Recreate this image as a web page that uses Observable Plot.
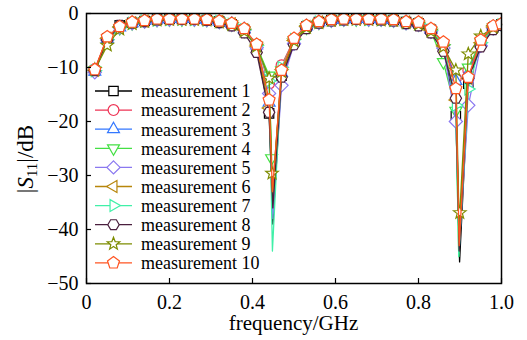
<!DOCTYPE html>
<html>
<head>
<meta charset="utf-8">
<script src="https://cdn.jsdelivr.net/npm/d3@7"></script>
<script src="https://cdn.jsdelivr.net/npm/@observablehq/plot@0.6"></script>
<style>
  html, body { margin: 0; padding: 0; background: white; }
  svg { display: block; }
  svg text, svg tspan { font-family: "Liberation Serif", "Times New Roman", "DejaVu Serif", serif !important; }
</style>
</head>
<body>
<div id="chart"></div>
<script>
// ---- data ----
const seriesNames = ["measurement 1","measurement 2","measurement 3","measurement 4","measurement 5",
                     "measurement 6","measurement 7","measurement 8","measurement 9","measurement 10"];
const xTicks = [0, 0.2, 0.4, 0.6, 0.8, 1.0];
const yTicks = [0, -10, -20, -30, -40, -50];
const freq = [0.02,0.05,0.08,0.11,0.14,0.17,0.20,0.23,0.26,0.29,0.32,0.35,0.38,0.41,0.44,0.47,0.50,
              0.53,0.56,0.59,0.62,0.65,0.68,0.71,0.74,0.77,0.80,0.83,0.86,0.89,0.92,0.95,0.98,1.00];
const s1  = [-10.6,-4.6,-2.2,-1.7,-1.4,-1.1,-1.0,-1.0,-1.0,-1.2,-1.5,-2.0,-3.0,-6.2,-18.5,-11.5,-5.2,-2.4,-1.6,-1.2,-1.0,-1.0,-1.0,-1.1,-1.2,-1.6,-1.8,-3.0,-6.0,-19.0,-13.0,-5.5,-2.6,-2.0];
const s2  = [-10.3,-4.5,-2.5,-1.7,-1.3,-1.1,-1.0,-0.9,-1.0,-1.1,-1.4,-1.9,-2.9,-5.8,-13.0,-9.6,-4.8,-2.3,-1.5,-1.1,-1.0,-0.9,-1.0,-1.0,-1.2,-1.5,-1.7,-2.9,-5.5,-12.0,-10.5,-5.0,-2.4,-1.9];
const s3  = [-10.8,-4.7,-2.6,-1.8,-1.4,-1.1,-1.0,-1.0,-1.0,-1.2,-1.5,-1.9,-2.9,-5.9,-16.5,-11.0,-4.9,-2.4,-1.6,-1.2,-1.1,-1.0,-1.0,-1.1,-1.2,-1.6,-1.8,-3.0,-5.8,-12.5,-11.0,-5.2,-2.5,-2.0];
const s4  = [-10.5,-5.2,-2.7,-1.8,-1.4,-1.2,-1.1,-1.1,-1.1,-1.2,-1.5,-2.0,-3.2,-6.0,-11.5,-10.5,-5.0,-2.6,-1.7,-1.3,-1.1,-1.1,-1.1,-1.1,-1.3,-1.7,-2.0,-3.3,-9.0,-18.0,-10.0,-5.3,-2.6,-2.1];
const s5  = [-10.9,-4.9,-2.6,-1.8,-1.5,-1.2,-1.1,-1.0,-1.1,-1.2,-1.6,-2.1,-3.1,-6.3,-14.8,-13.3,-5.6,-2.5,-1.7,-1.3,-1.1,-1.0,-1.1,-1.1,-1.3,-1.8,-2.1,-3.4,-6.4,-20.0,-17.0,-6.0,-2.8,-2.1];
const s6  = [-10.5,-4.6,-2.5,-1.7,-1.4,-1.1,-1.0,-1.0,-1.0,-1.1,-1.5,-1.9,-3.0,-6.0,-17.5,-11.2,-5.0,-2.4,-1.6,-1.2,-1.0,-1.0,-1.0,-1.1,-1.2,-1.6,-1.8,-3.1,-6.0,-16.0,-12.0,-5.4,-2.5,-2.0];
const s7  = [-10.6,-4.8,-2.6,-1.8,-1.4,-1.2,-1.1,-1.0,-1.1,-1.2,-1.5,-2.0,-3.0,-5.9,-12.5,-10.0,-4.8,-2.4,-1.6,-1.2,-1.1,-1.0,-1.1,-1.1,-1.3,-1.7,-1.9,-3.1,-5.8,-17.0,-14.0,-5.4,-2.6,-2.1];
const s8  = [-10.6,-4.9,-2.2,-1.8,-1.5,-1.2,-1.1,-1.1,-1.1,-1.3,-1.7,-2.3,-3.6,-7.2,-18.3,-11.8,-5.8,-2.8,-1.8,-1.4,-1.2,-1.1,-1.1,-1.2,-1.4,-1.9,-2.3,-3.6,-7.0,-15.7,-12.0,-6.2,-3.0,-2.2];
const s9  = [-10.4,-5.9,-2.9,-1.9,-1.5,-1.2,-1.1,-1.1,-1.1,-1.2,-1.6,-2.1,-3.3,-6.1,-12.0,-10.8,-5.1,-2.6,-1.7,-1.3,-1.1,-1.1,-1.1,-1.2,-1.3,-1.7,-2.0,-3.3,-6.2,-10.5,-7.5,-4.2,-2.6,-2.0];
const s10 = [-10.4,-4.3,-2.4,-1.6,-1.3,-1.0,-1.0,-1.0,-1.0,-1.1,-1.4,-1.8,-2.8,-5.7,-16.0,-10.5,-4.6,-2.2,-1.5,-1.1,-1.0,-1.0,-1.0,-1.0,-1.1,-1.5,-1.6,-2.8,-5.3,-13.9,-11.8,-4.9,-2.3,-1.9];
// resonance minima (line only)
const dip1F  = [0.449,0.448,0.449,0.447,0.449,0.448,0.448,0.449,0.448,0.448];
const dip1Db = [-39,-35,-37,-35,-38,-34,-44,-36,-33,-33];
const dip2F  = [0.899,0.898,0.898,0.897,0.899,0.898,0.897,0.898,0.8985,0.898];
const dip2Db = [-46,-43,-44,-45,-42,-41,-45,-44,-41,-43];
// extra measured (marked) points near the resonances
const extraSeries = [3, 8, 8];
const extraF  = [0.446, 0.447, 0.8995];
const extraDb = [-26.8, -29.6, -36.9];

const colors = ["#000000","#ee3355","#3377ff","#44e044","#8a78f0","#b8860b","#40f0a8","#4a1f3e","#7d8c00","#ff5522"];

// ---- custom marker shapes ----
function poly(n, rot, k) {
  return { draw(ctx, size) {
    const r = Math.sqrt(size / Math.PI) * k;
    for (let i = 0; i < n; i++) {
      const a = rot + i * 2 * Math.PI / n;
      const x = r * Math.cos(a), y = r * Math.sin(a);
      if (i === 0) ctx.moveTo(x, y); else ctx.lineTo(x, y);
    }
    ctx.closePath();
  }};
}
const symSquare = { draw(ctx, size) { const s = Math.sqrt(size / Math.PI) * 0.78; ctx.rect(-s, -s, 2*s, 2*s); } };
const symCircle = { draw(ctx, size) { const r = Math.sqrt(size / Math.PI) * 0.9; ctx.moveTo(r, 0); ctx.arc(0, 0, r, 0, 2*Math.PI); } };
const symTriUp = poly(3, -Math.PI/2, 1.15);
const symTriDown = poly(3, Math.PI/2, 1.15);
const symDiamond = poly(4, -Math.PI/2, 1.1);
const symTriLeft = poly(3, Math.PI, 1.15);
const symTriRight = poly(3, 0, 1.15);
const symHex = poly(6, 0, 0.95);
const symPent = poly(5, -Math.PI/2, 1.05);
const symStar = { draw(ctx, size) {
  const R = Math.sqrt(size / Math.PI) * 1.1, r = R * 0.42;
  for (let i = 0; i < 10; i++) {
    const a = -Math.PI/2 + i * Math.PI / 5, rr = i % 2 ? r : R;
    const x = rr * Math.cos(a), y = rr * Math.sin(a);
    if (i === 0) ctx.moveTo(x, y); else ctx.lineTo(x, y);
  }
  ctx.closePath();
}};
const symbols = [symSquare, symCircle, symTriUp, symTriDown, symDiamond, symTriLeft, symTriRight, symHex, symStar, symPent];

const allVals = [s1,s2,s3,s4,s5,s6,s7,s8,s9,s10];
const R = 6;

const seriesRows = allVals.map((vals, i) => {
  const rows = freq.map((f, j) => ({f, db: vals[j], m: true}));
  rows.push({f: dip1F[i], db: dip1Db[i], m: false});
  rows.push({f: dip2F[i], db: dip2Db[i], m: false});
  extraSeries.forEach((s, k) => { if (s === i) rows.push({f: extraF[k], db: extraDb[k], m: true}); });
  rows.sort((a, b) => a.f - b.f);
  return rows;
});

const marks = [];
seriesRows.forEach((rows, i) => {
  marks.push(Plot.line(rows, {x: "f", y: "db", stroke: colors[i], strokeWidth: 1.3}));
  marks.push(Plot.dot(rows.filter(d => d.m), {x: "f", y: "db", symbol: symbols[i], r: R,
    stroke: colors[i], fill: "white", strokeWidth: 1.2, clip: true}));
});

const font = "Liberation Serif, Times New Roman, DejaVu Serif, serif";
const chart = Plot.plot({
  width: 527, height: 340,
  marginLeft: 86, marginRight: 26, marginTop: 13, marginBottom: 57,
  style: {fontFamily: font, fontSize: "20px", color: "black", background: "white"},
  x: {domain: [0, 1], label: null},
  y: {domain: [-50, 0], label: null},
  marks: [
    ...marks,
    Plot.frame({stroke: "black", strokeWidth: 1.5}),
    Plot.axisX(xTicks, {tickSize: -5, tickPadding: 16, tickFormat: d => d.toFixed(1).replace(/^0\.0$/, "0"), label: null, strokeWidth: 1.2}),
    Plot.axisY(yTicks, {tickSize: -5, tickPadding: 13, tickFormat: d => d === 0 ? "0" : "\u2212" + Math.abs(d), label: null, strokeWidth: 1.2})
  ]
});
document.getElementById("chart").appendChild(chart);

// ---- axis titles and legend ----
const svg = d3.select(chart);
svg.append("text")
  .attr("x", 293.5).attr("y", 330)
  .attr("text-anchor", "middle")
  .attr("font-family", font).attr("font-size", 21).attr("fill", "black")
  .text("frequency/GHz");

const yl = svg.append("text")
  .attr("transform", "translate(33,159) rotate(-90)")
  .attr("text-anchor", "middle")
  .attr("font-family", font).attr("font-size", 23).attr("fill", "black");
yl.append("tspan").text("|");
yl.append("tspan").attr("font-style", "italic").text("S");
yl.append("tspan").attr("font-size", 15).attr("dy", 4).text("11");
yl.append("tspan").attr("dy", -4).text("|/dB");

const lg = svg.append("g").attr("text-anchor", "start");
seriesNames.forEach((name, i) => {
  const y = 91 + 19.1 * i;
  const g = lg.append("g");
  g.append("line").attr("x1", 95).attr("x2", 132).attr("y1", y).attr("y2", y)
    .attr("stroke", colors[i]).attr("stroke-width", 1.3);
  g.append("path").attr("transform", `translate(113.5,${y})`)
    .attr("d", d3.symbol().type(symbols[i]).size(Math.PI * R * R)())
    .attr("fill", "white").attr("stroke", colors[i]).attr("stroke-width", 1.2);
  g.append("text").attr("x", 141).attr("y", y).attr("dy", "0.35em")
    .attr("text-anchor", "start")
    .attr("font-family", font).attr("font-size", 18).attr("fill", "black")
    .text(name);
});
</script>
</body>
</html>
